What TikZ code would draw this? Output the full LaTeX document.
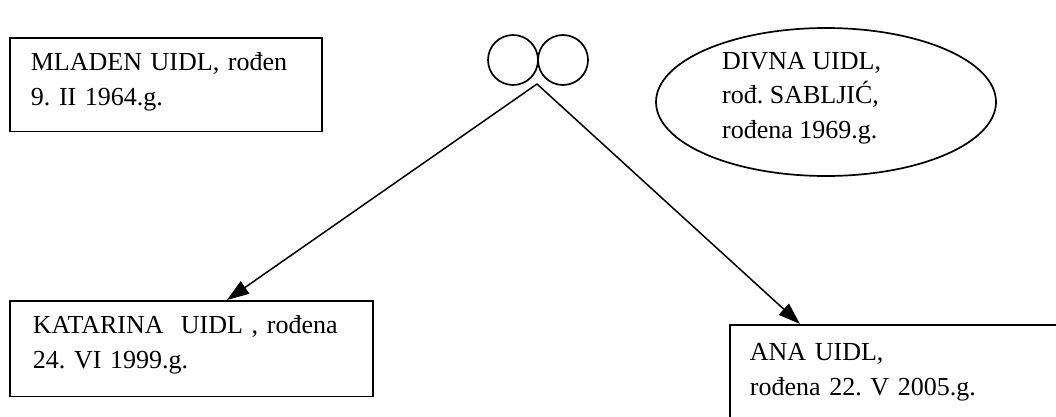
\documentclass[tikz,border=0pt]{standalone}
\usepackage{fontspec}
\setmainfont{Liberation Serif}
\usetikzlibrary{arrows.meta,shapes.geometric}
\frenchspacing
\begin{document}
\begin{tikzpicture}[x=1pt,y=1pt,
  txt/.style={font=\fontsize{26}{34.5}\selectfont},
  box/.style={txt, draw, line width=1.7pt, rectangle, anchor=north west, inner ysep=0pt, align=left},
  link/.style={line width=1.5pt, -{Triangle[length=22pt,width=15pt]}},
  ring/.style={draw, circle, line width=1.7pt, minimum size=50pt, inner sep=0pt}]
\useasboundingbox (0,0) rectangle (1056,-417);
\clip (0,0) rectangle (1056,-417);
\fill[white] (0,0) rectangle (1056,-417);
\node[box, inner xsep=21pt, text width=270pt] (mladen) at (9,-37)
  {\rule{0pt}{33pt}MLADEN UIDL, rođen\\9. II 1964.g.\rule[-26pt]{0pt}{26pt}};
\node[ring] (ringL) at (513,-60) {};
\node[ring] (ringR) at (563,-60) {};
\node[draw, ellipse, line width=1.7pt, minimum width=340pt, minimum height=148pt] (divna) at (826,-102) {};
\node[txt, anchor=north west, inner sep=0pt, align=left] (divnatext) at (722,-49)
  {\rule{0pt}{20pt}DIVNA UIDL,\\rođ. SABLJIĆ,\\rođena 1969.g.};
\node[box, inner xsep=23pt, text width=317pt] (kat) at (9,-300)
  {\rule{0pt}{33pt}KATARINA\ \ UIDL , rođena\\24. VI 1999.g.\rule[-28pt]{0pt}{28pt}};
\node[box, inner xsep=20pt, text width=340pt] (ana) at (729,-324)
  {\rule{0pt}{36pt}ANA UIDL,\\rođena 22. V 2005.g.\rule[-60pt]{0pt}{60pt}};
\coordinate (apex) at (537,-84);
\coordinate (tipK) at (227,-300);
\coordinate (tipA) at (800,-324);
\draw[link] (apex) -- (tipK);
\draw[link] (apex) -- (tipA);
\end{tikzpicture}
\end{document}
